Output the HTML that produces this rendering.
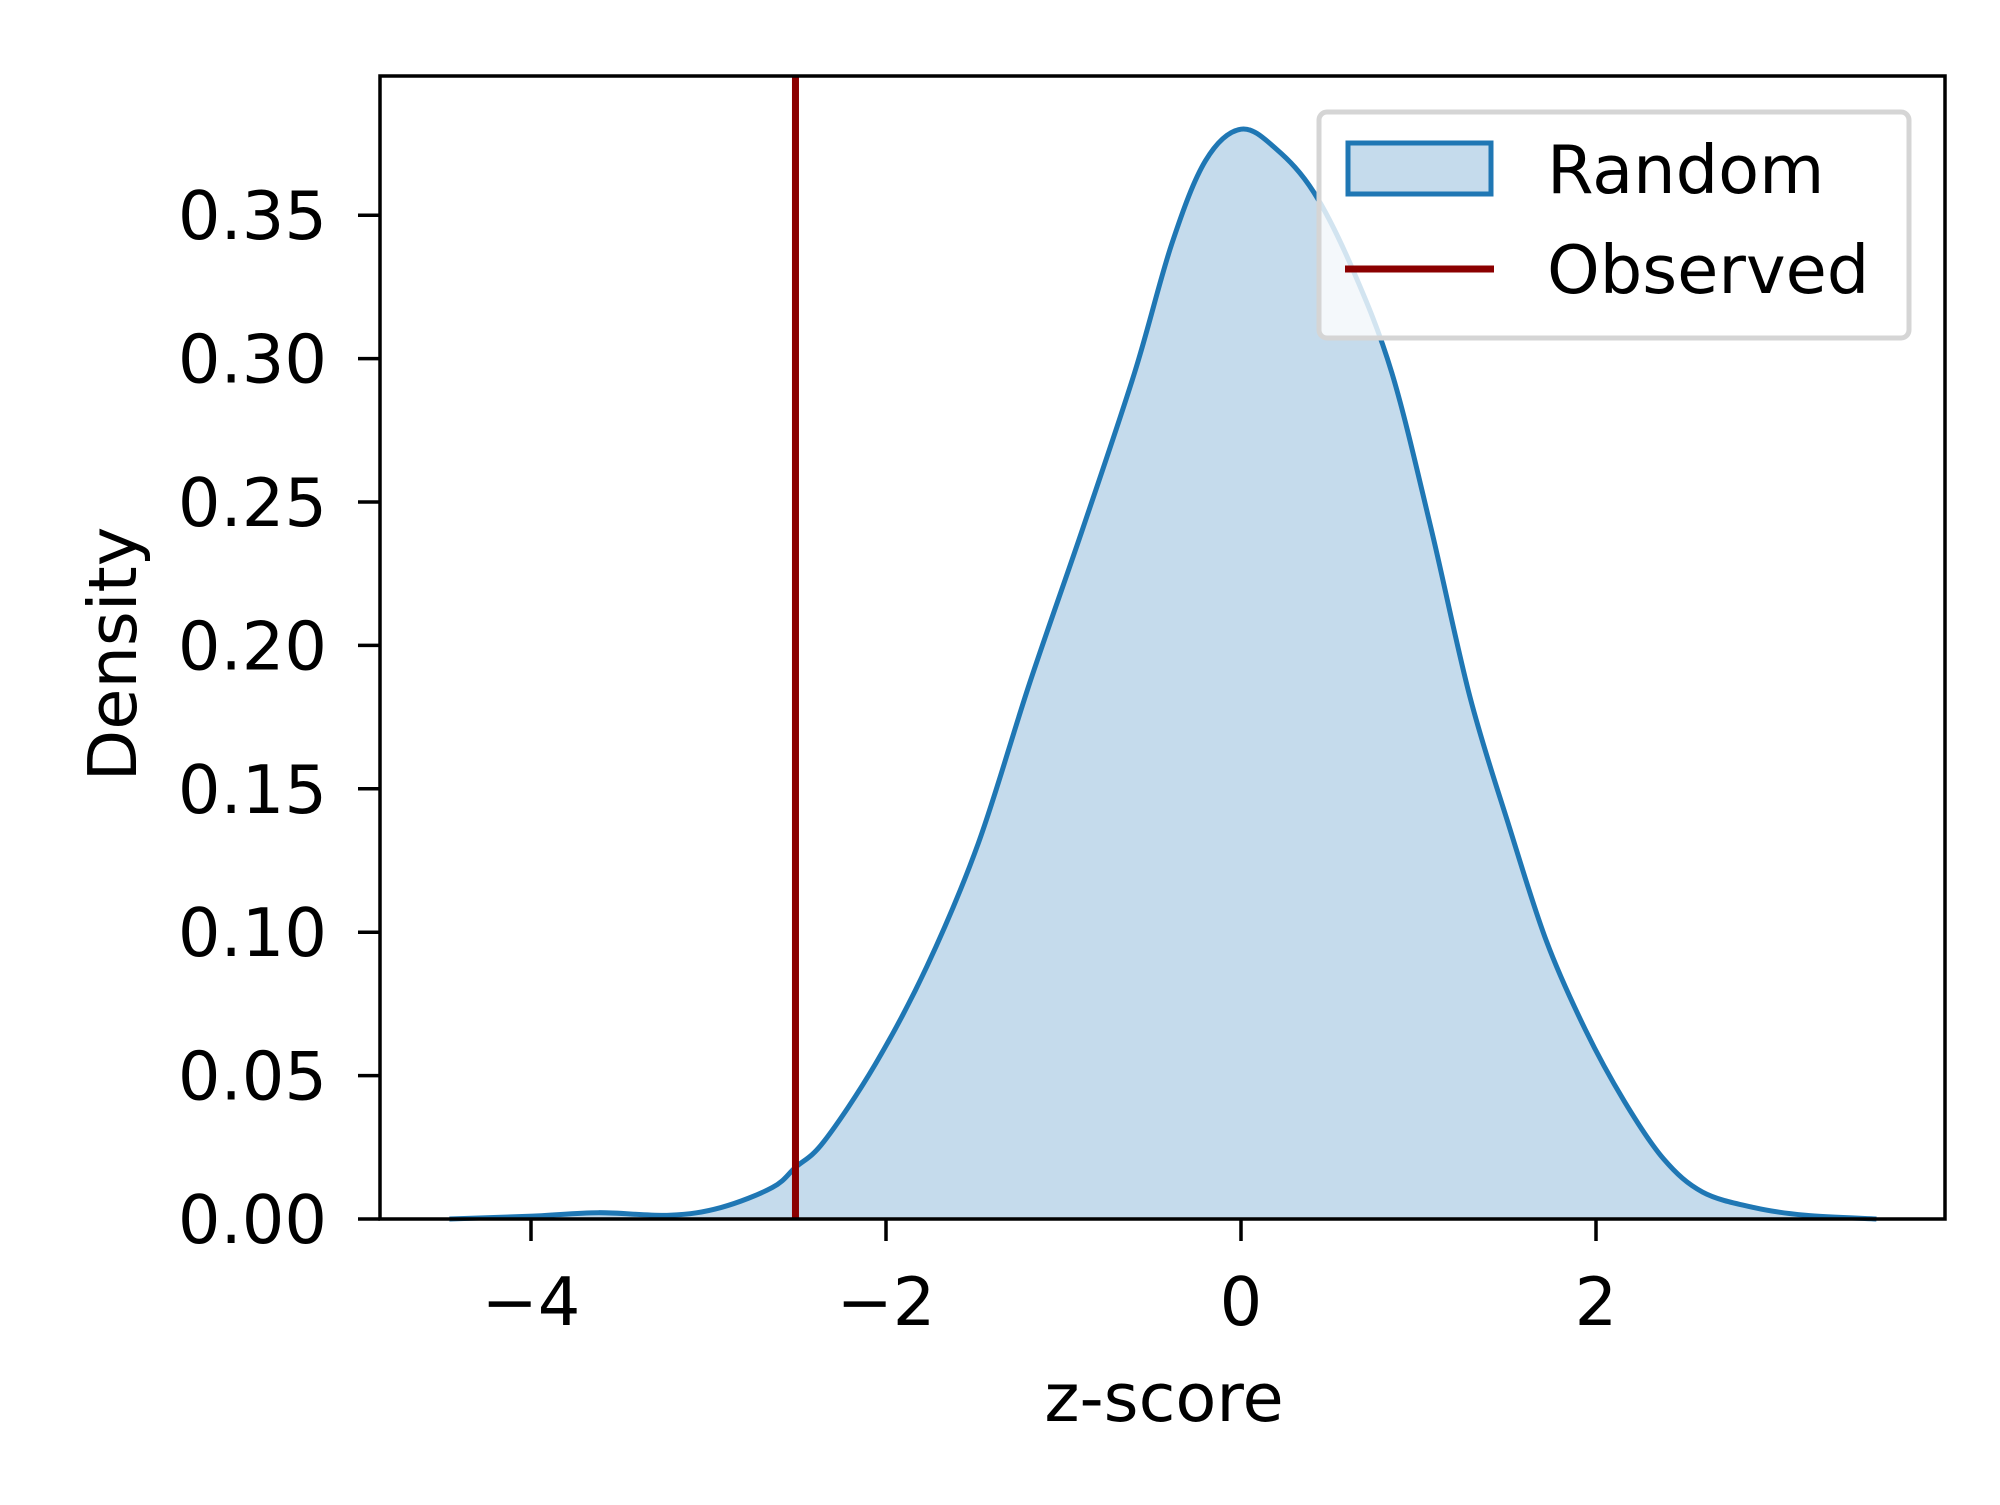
<!DOCTYPE html>
<html><head><meta charset="utf-8"><style>
html,body{margin:0;padding:0;background:#fff}
svg text{font-family:"DejaVu Sans","Liberation Sans",sans-serif;fill:#000}
</style></head><body>
<svg width="2000" height="1500" viewBox="0 0 2000 1500">
<g id="plot"></g>
</svg>
<script>
const zVals=[-4.46,-3.99,-3.62,-3.22,-2.93,-2.64,-2.51,-2.35,-2.06,-1.77,-1.48,-1.19,-0.89,-0.60,-0.39,-0.20,0,0.20,0.41,0.63,0.85,1.07,1.29,1.51,1.72,1.94,2.16,2.38,2.60,2.89,3.18,3.58];
const densVals=[0,0.001,0.0022,0.0013,0.004,0.011,0.018,0.027,0.054,0.088,0.131,0.187,0.241,0.295,0.34,0.369,0.380,0.373,0.358,0.331,0.295,0.241,0.182,0.137,0.097,0.066,0.041,0.021,0.0094,0.004,0.0013,0];
const xTicks=[-4,-2,0,2];
const xTickLabels=["\u22124","\u22122","0","2"];
const yTicks=[0,0.05,0.10,0.15,0.20,0.25,0.30,0.35];
const yTickLabels=["0.00","0.05","0.10","0.15","0.20","0.25","0.30","0.35"];
const observed=[-2.51];

const L=380,R=1945,T=76,B=1219;
const X=z=>1241+177.5*z;
const Y=v=>B-v*2868;
const NS="http://www.w3.org/2000/svg";
const g=document.getElementById('plot');
function mk(t,a,p){const e=document.createElementNS(NS,t);for(const k in a)e.setAttribute(k,a[k]);(p||g).appendChild(e);return e;}

const pts=zVals.map((z,i)=>[X(z),Y(densVals[i])]);
let d="M"+pts[0][0]+","+pts[0][1];
for(let i=0;i<pts.length-1;i++){
 const p0=pts[Math.max(0,i-1)],p1=pts[i],p2=pts[i+1],p3=pts[Math.min(pts.length-1,i+2)];
 const c1=[p1[0]+(p2[0]-p0[0])/6,p1[1]+(p2[1]-p0[1])/6];
 const c2=[p2[0]-(p3[0]-p1[0])/6,p2[1]-(p3[1]-p1[1])/6];
 d+=" C"+c1[0]+","+c1[1]+" "+c2[0]+","+c2[1]+" "+p2[0]+","+p2[1];
}
const fill=mk('path',{d:d+" L"+pts[pts.length-1][0]+","+B+" L"+pts[0][0]+","+B+" Z",fill:"#c5dbec",stroke:"none"});


const line=mk('path',{d:d,fill:"none",stroke:"#1f77b4","stroke-width":5});



observed.forEach(z=>{
 const l=mk('line',{x1:X(z),x2:X(z),y1:T,y2:B,stroke:"#8b0000","stroke-width":7});
 
 
});

const frame=mk('rect',{x:L,y:T,width:R-L,height:B-T,fill:"none",stroke:"#000","stroke-width":3.5});



xTicks.forEach((t,i)=>{
 const x=X(t);
 const tk=mk('line',{x1:x,x2:x,y1:B,y2:B+22,stroke:"#000","stroke-width":3.5});
 
 
 const tx=mk('text',{x:x,y:1325,"text-anchor":"middle","font-size":67});
 tx.textContent=xTickLabels[i];
 
 
});
yTicks.forEach((t,i)=>{
 const y=Y(t);
 const tk=mk('line',{x1:L-22,x2:L,y1:y,y2:y,stroke:"#000","stroke-width":3.5});
 
 
 const tx=mk('text',{x:327,y:y+24,"text-anchor":"end","font-size":67});
 tx.textContent=yTickLabels[i];
 
 
});
const xl=mk('text',{x:1164,y:1421,"text-anchor":"middle","font-size":67});
xl.textContent="z-score";


const yl=mk('text',{x:0,y:0,"text-anchor":"middle","font-size":67,transform:"translate(136,654) rotate(-90)"});
yl.textContent="Density";



const lg=mk('g',{});


mk('rect',{x:1319,y:112,width:590,height:226,rx:8,fill:"rgba(255,255,255,0.8)",stroke:"#d5d5d5","stroke-width":5},lg);
const p=mk('rect',{x:1348,y:143,width:143,height:51,fill:"#c5dbec",stroke:"#1f77b4","stroke-width":5},lg);


const t1=mk('text',{x:1547,y:193,"font-size":67},lg);t1.textContent="Random";


const ol=mk('line',{x1:1345,x2:1494,y1:269,y2:269,stroke:"#8b0000","stroke-width":7},lg);


const t2=mk('text',{x:1547,y:293,"font-size":67},lg);t2.textContent="Observed";


</script>
</body></html>
